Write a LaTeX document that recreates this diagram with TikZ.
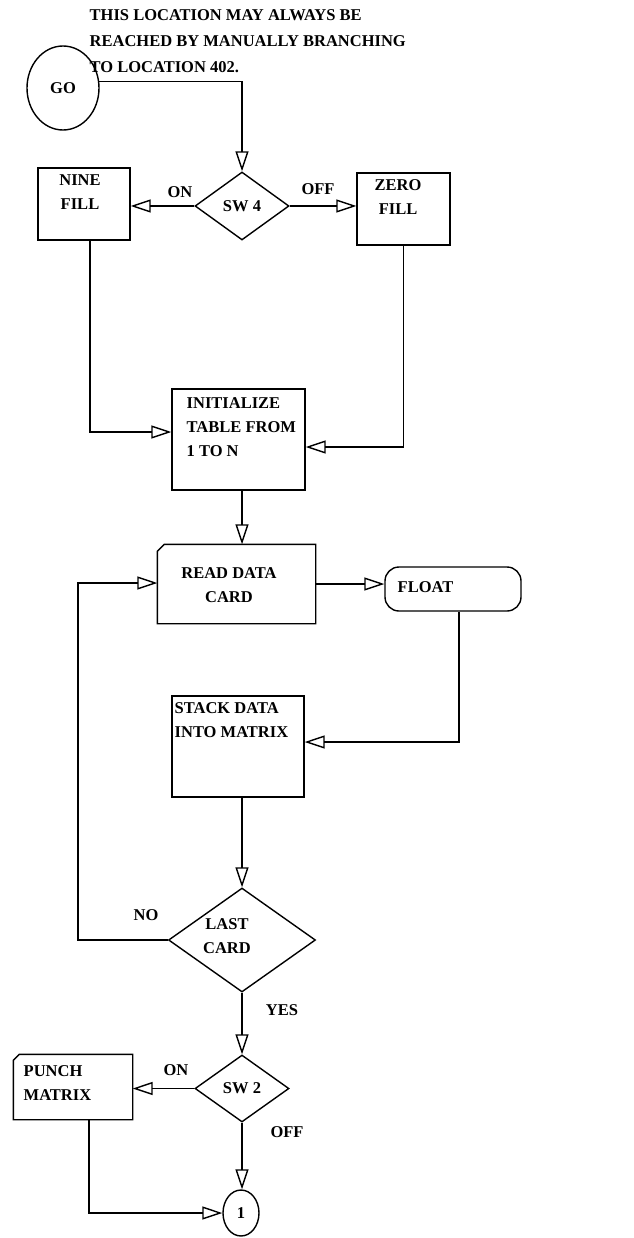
\documentclass[tikz,border=0pt]{standalone}
\usepackage{fontspec}
\setmainfont{Liberation Serif}
\usetikzlibrary{arrows.meta,shapes.geometric}
\begin{document}
\begin{tikzpicture}[x=1pt,y=-1pt,line width=1.4pt,
  font=\fontsize{16.5}{24}\selectfont\bfseries,
  box/.style={draw,rectangle,inner sep=0pt},
  card/.style={rectangle,inner sep=0pt},
  dec/.style={draw,diamond,inner sep=0pt},
  term/.style={draw,ellipse,inner sep=0pt},
  stop/.style={draw,rectangle,rounded corners=14pt,inner sep=0pt},
  txt/.style={inner sep=0pt,align=left},
  arr/.style={-{Triangle[open,length=20pt,width=13pt]}}]
\path[use as bounding box] (0,0) rectangle (633,1238);

\node[txt,anchor=north west,font=\fontsize{16.5}{26}\selectfont\bfseries] (note) at (89,9)
  {THIS LOCATION MAY ALWAYS BE\\REACHED BY MANUALLY BRANCHING\\TO LOCATION 402.};

\node[term,minimum width=72pt,minimum height=84pt] (go) at (63,88) {GO};
\node[dec,minimum width=94pt,minimum height=68pt] (sw4) at (242,206) {SW 4};
\node[txt] (on4) at (180,192) {ON};
\node[txt] (off4) at (318,189) {OFF};

\node[box,minimum width=92pt,minimum height=72pt] (nine) at (84,204) {};
\node[txt,align=center] (nine-t) at (80,192) {NINE\\FILL};
\node[box,minimum width=93pt,minimum height=72pt] (zero) at (403.5,209) {};
\node[txt,align=center] (zero-t) at (398,197) {ZERO\\FILL};

\node[box,minimum width=133pt,minimum height=101pt] (init) at (238.5,439.5) {};
\node[txt,anchor=north west] (init-t) at (186,397) {INITIALIZE\\TABLE FROM\\1 TO N};

% card with cut corner
\node[card,minimum width=157pt,minimum height=78pt] (read) at (236.5,584) {};
\draw ([yshift=-7pt]read.north west) -- ([xshift=7pt]read.north west) -- (read.north east)
  -- (read.south east) -- (read.south west) -- cycle;
\node[txt,align=center] (read-t) at (229,585.5) {READ DATA\\CARD};

\node[stop,minimum width=136pt,minimum height=44pt] (float) at (453,589) {};
\node[txt,anchor=west] (float-t) at (397,587) {FLOAT};

\node[box,minimum width=132pt,minimum height=101pt] (stack) at (238,746.5) {};
\node[txt,anchor=north west] (stack-t) at (174,702) {STACK DATA\\INTO MATRIX};

\node[dec,minimum width=147pt,minimum height=104pt] (last) at (242,940) {};
\node[txt,align=center] (last-t) at (227,936) {LAST\\CARD};
\node[txt] (no) at (146,915) {NO};
\node[txt] (yes) at (282,1010) {YES};

\node[dec,minimum width=94pt,minimum height=67pt] (sw2) at (242,1088.5) {SW 2};
\node[txt] (on2) at (176,1070) {ON};
\node[txt] (off2) at (287,1132) {OFF};

\node[card,minimum width=118pt,minimum height=64pt] (punch) at (73,1087) {};
\draw ([yshift=-6pt]punch.north west) -- ([xshift=6pt]punch.north west) -- (punch.north east)
  -- (punch.south east) -- (punch.south west) -- cycle;
\node[txt,anchor=north west] (punch-t) at (23,1065) {PUNCH\\MATRIX};

\node[term,minimum width=36pt,minimum height=46pt] (one) at (241,1213) {1};

% flow lines
\coordinate (back) at (78,583);
\draw[arr] (go.10) -| (sw4.north);
\draw[arr] (sw4.west) -- (sw4.west -| nine.east);
\draw[arr] (sw4.east) -- (sw4.east -| zero.west);
\draw[arr] ([xshift=6pt]nine.south) |- ([yshift=7.5pt]init.west);
\draw[arr] (zero.south) |- ([yshift=-7.5pt]init.east);
\draw[arr] (init.south -| sw4) -- (read.north -| sw4);
\draw[arr] (read.east) -- (read.east -| float.west);
\draw[arr] ([xshift=6pt]float.south) |- ([yshift=4.5pt]stack.east);
\draw[arr] (stack.south -| sw4) -- (last.north);
\draw[arr] (last.west) -| (back) -- (back -| read.west);
\draw[arr] (last.south) -- (sw2.north);
\draw[arr] (sw2.west) -- (sw2.west -| punch.east);
\draw[arr] (sw2.south) -- (sw2.south |- one.north);
\draw[arr] ([xshift=16pt]punch.south) |- (one.west);
\end{tikzpicture}
\end{document}
